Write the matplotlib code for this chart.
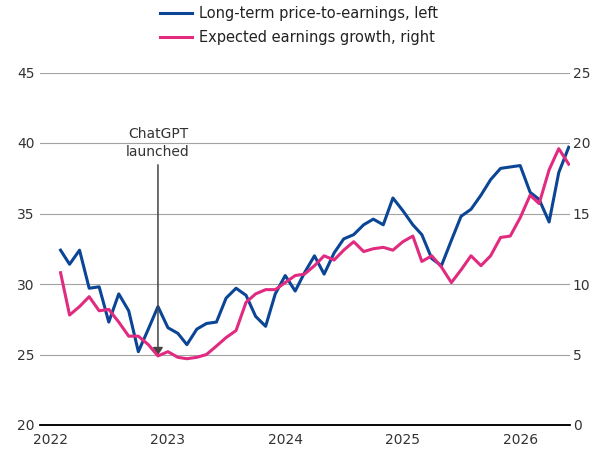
import numpy as np
import pandas as pd
import matplotlib
matplotlib.use("Agg")
import matplotlib.pyplot as plt

# monthly data, Feb 2022 - Jun 2026
months = pd.date_range("2022-02-01", periods=53, freq="MS")

pe_left = [32.4, 31.4, 32.4, 29.7, 29.8, 27.3, 29.3, 28.1, 25.2, 26.8,
           28.4, 26.9, 26.5, 25.7, 26.8, 27.2, 27.3, 29.0, 29.7, 29.2,
           27.7, 27.0, 29.3, 30.6, 29.5, 30.8, 32.0, 30.7, 32.2, 33.2,
           33.5, 34.2, 34.6, 34.2, 36.1, 35.2, 34.2, 33.5, 31.8, 31.3,
           33.1, 34.8, 35.3, 36.3, 37.4, 38.2, 38.3, 38.4, 36.5, 36.0,
           34.4, 37.9, 39.7]

growth_right = [10.8, 7.8, 8.4, 9.1, 8.1, 8.2, 7.3, 6.3, 6.3, 5.7,
                4.9, 5.2, 4.8, 4.7, 4.8, 5.0, 5.6, 6.2, 6.7, 8.7,
                9.3, 9.6, 9.6, 10.1, 10.6, 10.7, 11.3, 12.0, 11.7, 12.4,
                13.0, 12.3, 12.5, 12.6, 12.4, 13.0, 13.4, 11.6, 12.0, 11.2,
                10.1, 11.0, 12.0, 11.3, 12.0, 13.3, 13.4, 14.7, 16.3, 15.7,
                18.1, 19.6, 18.5]

left_ticks = [20, 25, 30, 35, 40, 45]
right_ticks = [0, 5, 10, 15, 20, 25]
year_ticks = [2022, 2023, 2024, 2025, 2026]

blue = "#0b4595"
pink = "#e02b80"
grid_c = "#a3a3a3"
txt_c = "#333333"

plt.rcParams["font.family"] = "DejaVu Sans"
plt.rcParams["font.size"] = 10

fig = plt.figure(figsize=(5.9, 4.54), dpi=100)
ax = fig.add_axes([40 / 590, 1 - 425 / 454, 530 / 590, 352.5 / 454])
ax2 = ax.twinx()

l1, = ax.plot(months, pe_left, color=blue, lw=2.2, zorder=3,
              label="Long-term price-to-earnings, left")
l2, = ax2.plot(months, growth_right, color=pink, lw=2.2, zorder=3,
               label="Expected earnings growth, right")

ax.set_ylim(20, 45)
ax2.set_ylim(0, 25)
ax.set_yticks(left_ticks)
ax2.set_yticks(right_ticks)
ax.set_xticks([pd.Timestamp(f"{y}-01-01") for y in year_ticks])
ax.set_xticklabels([str(y) for y in year_ticks])
ax.set_xlim(pd.Timestamp("2021-11-29"), pd.Timestamp("2026-06-05"))

ax.grid(axis="y", color=grid_c, lw=0.8)
ax.set_axisbelow(True)
for a in (ax, ax2):
    for s in ("top", "left", "right"):
        a.spines[s].set_visible(False)
    a.spines["bottom"].set_color("black")
    a.spines["bottom"].set_linewidth(1.1)
ax.tick_params(axis="y", length=0, pad=4, colors=txt_c, labelsize=10)
ax2.tick_params(axis="y", length=0, pad=2, colors=txt_c, labelsize=10)
ax.tick_params(axis="x", length=0, pad=6, colors=txt_c, labelsize=10)

# ChatGPT annotation
launch = pd.Timestamp("2022-12-01")
ax.annotate("", xy=(launch, 24.95), xytext=(launch, 38.45),
            arrowprops=dict(arrowstyle="-|>,head_length=0.45,head_width=0.3",
                            color="#444444", lw=1.1, shrinkA=0, shrinkB=0,
                            mutation_scale=10), zorder=4)
ax.text(launch, 40.0, "ChatGPT\nlaunched", ha="center", va="center",
        color=txt_c, fontsize=10, linespacing=1.45)

fig.legend(handles=[l1, l2], loc="upper left",
           bbox_to_anchor=(160 / 590, 1 - 6 / 454), frameon=False,
           borderpad=0, borderaxespad=0, handlelength=2.2, handletextpad=0.5,
           labelspacing=0.6, fontsize=10.5, labelcolor="#222222")

fig.savefig("out.png", dpi=100)
